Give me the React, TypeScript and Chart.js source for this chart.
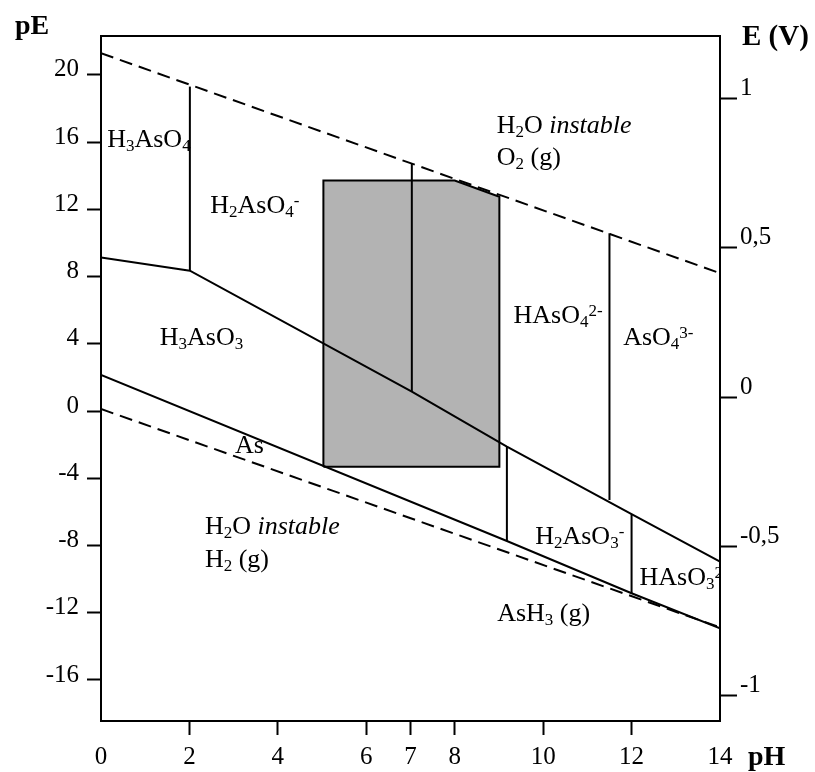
import React, { useEffect, useRef } from 'react';
import { Chart, registerables } from 'chart.js';

Chart.register(...registerables);

// ---- axis ticks ----
const pHTicks = [0, 2, 4, 6, 7, 8, 10, 12, 14];
const pETicks = [20, 16, 12, 8, 4, 0, -4, -8, -12, -16];
const voltTicks = [1, 0.5, 0, -0.5, -1];

// ---- boundaries, as [pH, pE] pairs ----
const waterO2Line = [[0, 21.29], [14, 8.2]];
const waterH2Line = [[0, 0.12], [14, -12.87]];
const arsenicLine = [[0, 2.15], [9.18, -7.73], [12.0, -10.84], [14, -12.92]];
const redoxAs5As3Line = [[0, 9.13], [2.01, 8.35], [7.03, 1.15], [9.18, -2.12], [12.0, -6.14], [14, -8.96]];
const h3aso4Boundary = [[2.01, 8.35], [2.01, 19.3]];
const h2aso4Boundary = [[7.03, 1.15], [7.03, 14.74]];
const haso4Boundary = [[11.5, -5.29], [11.5, 10.58]];
const h3aso3Boundary = [[9.18, -2.12], [9.18, -7.73]];
const h2aso3Boundary = [[12.0, -6.14], [12.0, -10.84]];
const naturalWatersBox = [[5.03, -3.31], [5.03, 13.71], [8.0, 13.71], [9.01, 12.75], [9.01, -3.31], [5.03, -3.31]];

// ---- region labels: [pH, pE] of the baseline start, and rich-text parts ----
// part kinds: n normal, s subscript, p superscript, i italic
type Part = [string, 'n' | 's' | 'p' | 'i'];
const regionLabels: { pH: number; pE: number; parts: Part[] }[] = [
  { pH: 0.14, pE: 15.73, parts: [['H', 'n'], ['3', 's'], ['AsO', 'n'], ['4', 's']] },
  { pH: 2.47, pE: 11.8, parts: [['H', 'n'], ['2', 's'], ['AsO', 'n'], ['4', 's'], ['-', 'p']] },
  { pH: 1.33, pE: 3.93, parts: [['H', 'n'], ['3', 's'], ['AsO', 'n'], ['3', 's']] },
  { pH: 8.95, pE: 16.53, parts: [['H', 'n'], ['2', 's'], ['O ', 'n'], ['instable', 'i']] },
  { pH: 8.95, pE: 14.64, parts: [['O', 'n'], ['2', 's'], [' (g)', 'n']] },
  { pH: 9.33, pE: 5.26, parts: [['HAsO', 'n'], ['4', 's'], ['2-', 'p']] },
  { pH: 11.81, pE: 3.93, parts: [['AsO', 'n'], ['4', 's'], ['3-', 'p']] },
  { pH: 3.03, pE: -2.47, parts: [['As', 'n']] },
  { pH: 2.35, pE: -7.31, parts: [['H', 'n'], ['2', 's'], ['O ', 'n'], ['instable', 'i']] },
  { pH: 2.35, pE: -9.26, parts: [['H', 'n'], ['2', 's'], [' (g)', 'n']] },
  { pH: 9.82, pE: -7.91, parts: [['H', 'n'], ['2', 's'], ['AsO', 'n'], ['3', 's'], ['-', 'p']] },
  { pH: 12.18, pE: -10.34, parts: [['HAsO', 'n'], ['3', 's'], ['2-', 'p']] },
  { pH: 8.96, pE: -12.47, parts: [['AsH', 'n'], ['3', 's'], [' (g)', 'n']] },
];

const FAMILY = '"Liberation Serif", "Times New Roman", serif';

const toXY = (arr: number[][]) => arr.map(([x, y]) => ({ x, y }));

function drawRich(ctx: CanvasRenderingContext2D, x: number, y: number, parts: Part[], size: number) {
  let cx = x;
  for (const [t, k] of parts) {
    let fs = size;
    let dy = 0;
    let style = '';
    if (k === 's') { fs = Math.round(size * 0.65); dy = 4; }
    else if (k === 'p') { fs = Math.round(size * 0.65); dy = -7; }
    else if (k === 'i') style = 'italic ';
    ctx.font = `${style}${fs}px ${FAMILY}`;
    ctx.fillText(t, cx, y + dy);
    cx += ctx.measureText(t).width;
  }
}

const annotatePlugin = {
  id: 'annotate',
  afterDatasetsDraw(chart: any) {
    const { ctx, chartArea: a, scales } = chart;
    ctx.save();
    ctx.beginPath();
    ctx.rect(a.left, a.top, a.right - a.left, a.bottom - a.top);
    ctx.clip();
    ctx.fillStyle = '#000';
    ctx.textBaseline = 'alphabetic';
    ctx.textAlign = 'left';
    for (const l of regionLabels) {
      drawRich(ctx, scales.x.getPixelForValue(l.pH), scales.y.getPixelForValue(l.pE), l.parts, 26);
    }
    ctx.restore();

    ctx.save();
    ctx.strokeStyle = '#000';
    ctx.lineWidth = 2;
    ctx.strokeRect(a.left, a.top, a.right - a.left, a.bottom - a.top);
    ctx.fillStyle = '#000';
    ctx.textBaseline = 'alphabetic';
    ctx.textAlign = 'left';
    ctx.font = `bold 28px ${FAMILY}`;
    ctx.fillText('pE', a.left - 86, a.top - 2);
    ctx.font = `bold 29px ${FAMILY}`;
    ctx.fillText('E (V)', a.right + 22, a.top + 9);
    ctx.font = `bold 28px ${FAMILY}`;
    ctx.fillText('pH', a.right + 28, a.bottom + 44);
    ctx.restore();
  },
};

const lineDs = (data: number[][], dashed = false) => ({
  data: toXY(data),
  borderColor: '#000',
  borderWidth: 2,
  borderDash: dashed ? [13, 7] : [],
  fill: false,
  pointRadius: 0,
  order: 1,
});

export default function App() {
  const ref = useRef<HTMLCanvasElement>(null);

  useEffect(() => {
    if (!ref.current) return;
    const tickFont = { family: FAMILY, size: 25 };
    const chart = new Chart(ref.current, {
      type: 'line',
      data: {
        datasets: [
          {
            data: toXY(naturalWatersBox),
            borderColor: '#000',
            borderWidth: 2,
            backgroundColor: '#b3b3b3',
            fill: 'shape',
            pointRadius: 0,
            order: 2,
          } as any,
          lineDs(waterO2Line, true),
          lineDs(waterH2Line, true),
          lineDs(arsenicLine),
          lineDs(redoxAs5As3Line),
          lineDs(h3aso4Boundary),
          lineDs(h2aso4Boundary),
          lineDs(haso4Boundary),
          lineDs(h3aso3Boundary),
          lineDs(h2aso3Boundary),
        ],
      },
      options: {
        animation: false,
        responsive: false,
        devicePixelRatio: 1,
        events: [],
        layout: { padding: { top: 36, left: 0, right: 0, bottom: 0 } },
        elements: { point: { radius: 0, hoverRadius: 0 }, line: { tension: 0 } },
        plugins: { legend: { display: false }, tooltip: { enabled: false } },
        scales: {
          x: {
            type: 'linear',
            position: 'bottom',
            min: 0,
            max: 14,
            afterFit: (s: any) => { s.height = 51; },
            afterBuildTicks: (s: any) => { s.ticks = pHTicks.map((v) => ({ value: v })); },
            grid: {
              drawOnChartArea: false,
              drawTicks: true,
              tickLength: 14,
              tickWidth: 2,
              tickColor: (c: any) => (c.tick && (c.tick.value === 0 || c.tick.value === 14) ? 'rgba(0,0,0,0)' : '#000'),
            },
            border: { display: true, color: '#000', width: 2 },
            ticks: { color: '#000', font: tickFont, padding: 7, maxRotation: 0, autoSkip: false, callback: (v: any) => String(v) },
          },
          y: {
            type: 'linear',
            position: 'left',
            min: -18.44,
            max: 22.31,
            afterFit: (s: any) => { s.width = 101; },
            afterBuildTicks: (s: any) => { s.ticks = pETicks.map((v) => ({ value: v })); },
            grid: { drawOnChartArea: false, drawTicks: true, tickLength: 14, tickWidth: 2, tickColor: '#000' },
            border: { display: true, color: '#000', width: 2 },
            ticks: { color: '#000', font: tickFont, padding: 8, labelOffset: -5, autoSkip: false, callback: (v: any) => String(v) },
          },
          y2: {
            type: 'linear',
            position: 'right',
            min: -1.0847,
            max: 1.2086,
            afterFit: (s: any) => { s.width = 95; },
            afterBuildTicks: (s: any) => { s.ticks = voltTicks.map((v) => ({ value: v })); },
            grid: { drawOnChartArea: false, drawTicks: true, tickLength: 17, tickWidth: 2, tickColor: '#000' },
            border: { display: true, color: '#000', width: 2 },
            ticks: {
              color: '#000',
              font: tickFont,
              padding: 3,
              labelOffset: -10,
              autoSkip: false,
              callback: (v: any) => String(v).replace('.', ','),
            },
          },
        },
      } as any,
      plugins: [annotatePlugin],
    });
    return () => chart.destroy();
  }, []);

  return (
    <div style={{ position: 'absolute', left: 0, top: 0, width: 815, height: 772, background: '#fff' }}>
      <canvas ref={ref} width={815} height={772} style={{ display: 'block', width: 815, height: 772 }} />
    </div>
  );
}
